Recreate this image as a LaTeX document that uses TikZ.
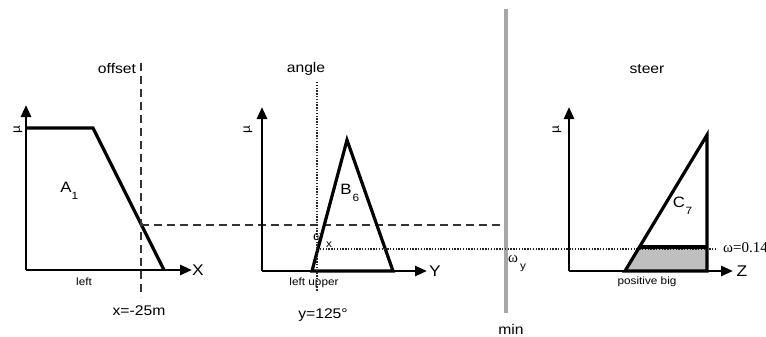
\documentclass[tikz,border=0pt]{standalone}
\usepackage{fontspec}
\setmainfont[FakeStretch=1.12]{Liberation Sans}
\newfontfamily\serifw{Liberation Serif}
\usetikzlibrary{arrows.meta}
\tikzset{
  axis/.style={line width=2.6pt,-{Triangle[length=12pt,width=10pt]}},
  setline/.style={line width=3.2pt,line join=miter},
  dashline/.style={line width=1.5pt,black!80,dash pattern=on 8pt off 5pt},
  dotline/.style={line width=1.1pt,black!85,dash pattern=on 1.4pt off 1.4pt},
  title/.style={font=\fontsize{14}{16}\selectfont,inner sep=0pt},
  small/.style={font=\fontsize{10.5}{12}\selectfont,inner sep=0pt},
  axlab/.style={font=\fontsize{15.5}{18}\selectfont,inner sep=0pt},
  setlab/.style={font=\fontsize{15}{18}\selectfont,inner sep=0pt},
  sub/.style={font=\fontsize{10.5}{12}\selectfont,inner sep=0pt},
  mulab/.style={font=\fontsize{12}{14}\selectfont,inner sep=0pt,rotate=90},
  wlab/.style={font=\serifw\fontsize{15}{17}\selectfont,inner sep=0pt},
}
\begin{document}
\begin{tikzpicture}[x=1pt,y=-1pt]
\useasboundingbox (0,0) rectangle (766,337);
% ---- panel 1 : offset
\coordinate (o1) at (26,270);
\coordinate (x1) at (192,270);
\coordinate (y1) at (26,105);
\coordinate (a1) at (26,128);
\coordinate (a2) at (93,128);
\coordinate (a3) at (164,270);
\draw[setline] (a1) -- (a2) -- (a3);
\draw[axis] (o1) -- (x1);
\draw[axis] (o1) -- (y1);
\node[axlab] (X) at (198,270) {X};
\node[mulab] (mu1) at (18,130) {µ};
\node[small] (left) at (84,282) {left};
\node[setlab] (A) at (66,187) {A};
\node[sub] (A1) at (75,196) {1};
\node[title] (offset) at (117,69) {offset};
\node[title] (xval) at (139,311) {x=-25m};
\coordinate (d1t) at (141,63);
\coordinate (d1b) at (141,297);
\draw[dashline] (d1t) -- (d1b);
\coordinate (h1l) at (141,225);
\coordinate (h1r) at (505,225);
\draw[dashline] (h1l) -- (h1r);
% ---- panel 2 : angle
\coordinate (o2) at (262,271);
\coordinate (x2) at (427,271);
\coordinate (y2) at (262,107);
\coordinate (b1) at (312,271);
\coordinate (b2) at (347,140);
\coordinate (b3) at (393,271);
\draw[setline] (b1) -- (b2) -- (b3) -- cycle;
\draw[axis] (o2) -- (x2);
\draw[axis] (o2) -- (y2);
\node[axlab] (Y) at (435,271) {Y};
\node[mulab] (mu2) at (248,130) {µ};
\node[setlab] (B) at (346,189) {B};
\node[sub] (B6) at (356,198) {6};
\node[title] (angle) at (306,69) {angle};
\node[small] (lu) at (314,283) {left upper};
\node[title] (yval) at (323,315) {y=125°};
\coordinate (v2t) at (317,82);
\coordinate (v2b) at (317,292);
\draw[dotline] (v2t) -- (v2b);
\node[wlab] (wx) at (318,237) {ω};
\node[sub] (wxs) at (329,245) {x};
% ---- min line
\coordinate (mt) at (506,9);
\coordinate (mb) at (506,313);
\draw[line width=3.4pt,black!35] (mt) -- (mb);
\node[title] (min) at (511,329) {min};
\node[wlab] (wy) at (513,259) {ω};
\node[sub] (wys) at (523,268) {y};
% ---- panel 3 : steer
\coordinate (o3) at (569,271);
\coordinate (x3) at (733,271);
\coordinate (y3) at (569,107);
\coordinate (c1) at (625,271);
\coordinate (c2) at (707,135);
\coordinate (c3) at (707,271);
\coordinate (c4) at (639.5,247);
\coordinate (c5) at (707,247);
\fill[black!25] (c1) -- (c4) -- (c5) -- (c3) -- cycle;
\coordinate (h2l) at (320,249);
\coordinate (h2r) at (716,249);
\draw[dotline] (h2l) -- (h2r);
\draw[setline] (c1) -- (c2) -- (c3) -- cycle;
\draw[setline] (c4) -- (c5);
\draw[axis] (o3) -- (x3);
\draw[axis] (o3) -- (y3);
\node[axlab] (Z) at (742,271) {Z};
\node[mulab] (mu3) at (557,130) {µ};
\node[setlab] (C) at (679,202) {C};
\node[sub] (C7) at (689,211) {7};
\node[title] (steer) at (647,69) {steer};
\node[small] (pb) at (647,282) {positive big};
\node[wlab,anchor=west] (w014) at (723,248) {ω=0.14};
\end{tikzpicture}
\end{document}
